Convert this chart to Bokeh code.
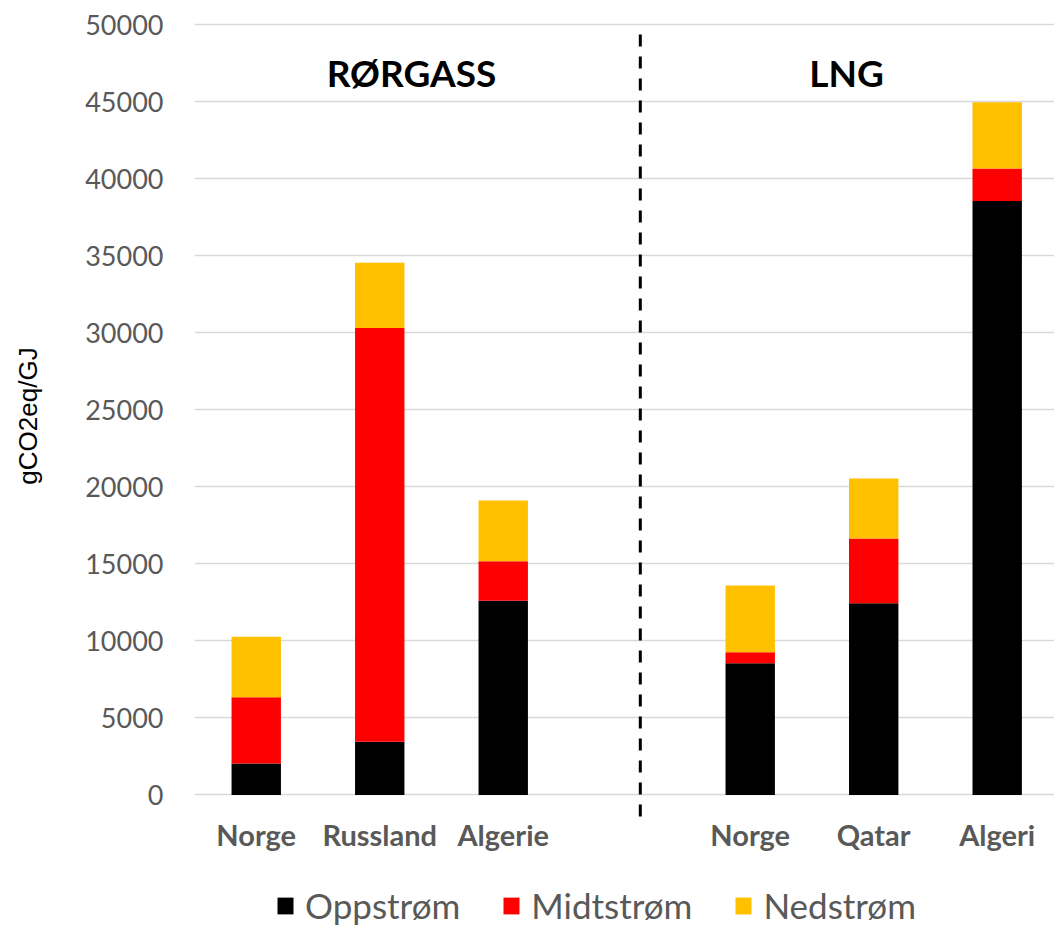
from bokeh.plotting import figure
from bokeh.layouts import column
from bokeh.models import Range1d, FixedTicker, Legend, LegendItem, ColumnDataSource
from bokeh.core.properties import value
from bokeh.embed import file_html
from bokeh.resources import INLINE

# ---- data ----
groups = ["RØRGASS", "LNG"]
countries = ["Norge", "Russland", "Algerie", "Norge", "Qatar", "Algeri"]
group_index = [0, 0, 0, 1, 1, 1]
oppstrom = [2050, 3450, 12600, 8550, 12450, 38550]
midtstrom = [4300, 26850, 2570, 720, 4200, 2110]
nedstrom = [3920, 4240, 3940, 4320, 3890, 4300]
series = ["Oppstrøm", "Midtstrøm", "Nedstrøm"]
colors = ["#000000", "#FF0000", "#FFC000"]
y_ticks = [0, 5000, 10000, 15000, 20000, 25000, 30000, 35000, 40000, 45000, 50000]

# positions: one empty slot between the two groups
xs = [i + g for i, g in enumerate(group_index)]

src = ColumnDataSource(dict(x=xs, Oppstrøm=oppstrom, Midtstrøm=midtstrom, Nedstrøm=nedstrom))

GRAY = "#595959"
CAL = "Lato"

p = figure(width=1054, height=870, output_backend="svg", toolbar_location=None,
           x_range=Range1d(-0.5, 6.464), y_range=Range1d(-1720, 50909),
           min_border_left=194, min_border_right=0, min_border_top=10, min_border_bottom=49)
p.outline_line_color = None
p.xgrid.visible = False
p.ygrid.ticker = FixedTicker(ticks=y_ticks)
p.ygrid.grid_line_color = "#D9D9D9"
p.ygrid.grid_line_width = 1.5

yax = p.yaxis[0]
yax.ticker = FixedTicker(ticks=y_ticks)
yax.axis_line_color = None
yax.major_tick_line_color = None
yax.minor_tick_line_color = None
yax.major_tick_out = 0
yax.major_tick_in = 0
yax.major_label_standoff = 31
yax.major_label_text_font = CAL
yax.major_label_text_font_size = "27px"
yax.major_label_text_color = GRAY
yax.axis_label = "gCO2eq/GJ"
yax.axis_label_text_font = "Liberation Sans"
yax.axis_label_text_font_size = "26px"
yax.axis_label_text_font_style = "normal"
yax.axis_label_text_color = "#000000"
yax.axis_label_standoff = 39

xax = p.xaxis[0]
xax.ticker = FixedTicker(ticks=xs)
xax.major_label_overrides = {x: c for x, c in zip(xs, countries)}
xax.axis_line_color = None
xax.major_tick_line_color = None
xax.minor_tick_line_color = None
xax.major_tick_out = 0
xax.major_tick_in = 0
xax.major_label_standoff = -5
xax.major_label_text_font = CAL
xax.major_label_text_font_style = "bold"
xax.major_label_text_font_size = "29px"
xax.major_label_text_color = GRAY

p.vbar_stack(series, x="x", width=0.4, source=src, color=colors, line_width=0)

# divider between the groups
p.segment(x0=[3.11], y0=[49350], x1=[3.11], y1=[-1720], line_color="#000000",
          line_width=3, line_dash="12 10")

# group titles
p.text(x=[1.257, 4.78], y=[46885, 46885], text=groups, text_align="center", text_baseline="middle",
       text_font=value(CAL), text_font_style="bold", text_font_size="37px", text_color="#000000")

# legend strip below the chart
q = figure(width=1054, height=56, output_backend="svg", toolbar_location=None,
           x_range=Range1d(-0.5, 6.464), y_range=Range1d(0, 1),
           x_axis_location=None, y_axis_location=None,
           min_border_left=0, min_border_right=0, min_border_top=0, min_border_bottom=0)
q.outline_line_color = None
q.xgrid.visible = False
q.ygrid.visible = False
rs = q.vbar_stack(series, x="x", width=0.4, source=src, color=colors, line_width=0)
for r in rs:
    r.visible = False

legend = Legend(items=[LegendItem(label=s, renderers=[r]) for s, r in zip(series, rs)],
                orientation="horizontal", location=(81, 0), padding=0, margin=0,
                spacing=41, label_standoff=10, glyph_width=20, glyph_height=21,
                label_height=21, label_text_font=CAL, label_text_font_size="35px",
                label_text_color=GRAY, border_line_color=None, background_fill_alpha=0)
q.add_layout(legend)

layout = column(p, q, spacing=0)
open("out.html", "w").write(file_html(layout, INLINE))
